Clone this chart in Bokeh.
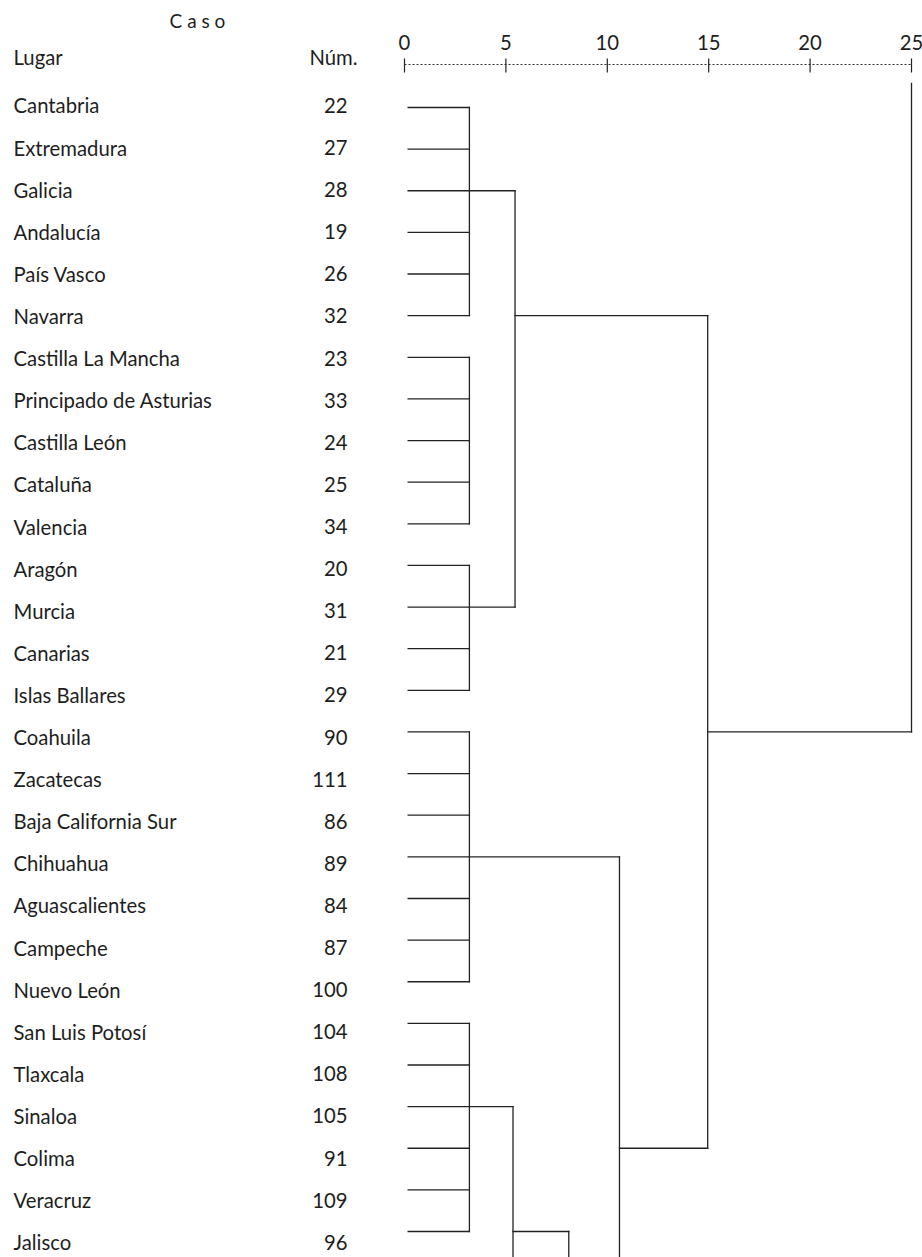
from bokeh.plotting import figure
from bokeh.models import Range1d
from bokeh.core.properties import value
from bokeh.embed import file_html
from bokeh.resources import INLINE

# ---------------- data ----------------
lugares = ["Cantabria", "Extremadura", "Galicia", "Andalucía", "País Vasco", "Navarra",
           "Castilla La Mancha", "Principado de Asturias", "Castilla León", "Cataluña",
           "Valencia", "Aragón", "Murcia", "Canarias", "Islas Ballares", "Coahuila",
           "Zacatecas", "Baja California Sur", "Chihuahua", "Aguascalientes", "Campeche",
           "Nuevo León", "San Luis Potosí", "Tlaxcala", "Sinaloa", "Colima", "Veracruz",
           "Jalisco"]
numeros = [22, 27, 28, 19, 26, 32, 23, 33, 24, 25, 34, 20, 31, 21, 29, 90, 111, 86, 89,
           84, 87, 100, 104, 108, 105, 91, 109, 96]

# rescaled distance ticks (top axis)
ticks = [0, 5, 10, 15, 20, 25]
tick_labels = ["0", "5", "10", "15", "20", "25"]

# dendrogram nodes: level (rescaled distance), first row, last row of the vertical,
# row of the outgoing link and level of the parent node (rows > 27 are cut off below)
nodo_nivel = [3.2, 3.2, 3.2, 5.45, 3.2, 3.2, 14.95, 10.6, 5.35, 8.1, 25.0]
nodo_ini = [0, 6, 11, 2, 15, 22, 5, 18, 24, 27, -0.58]
nodo_fin = [5, 10, 14, 12, 21, 27, 25, 29, 29, 29, 15]
nodo_salida = [2, None, 12, 5, 18, 24, 15, 25, 27, None, None]
nodo_padre = [5.45, None, 5.45, 14.95, 10.6, 5.35, 25.0, 14.95, 8.1, None, None]
nodos_hoja = [0, 1, 2, 4, 5]  # nodes whose members are single cases

# ---------------- style ----------------
FONT = value("Lato")
TXT = "#1e1e1e"
LINE = "#222222"
LEAF_X0 = 0.18
FS = "20.3px"

p = figure(width=922, height=1257,
           x_range=Range1d(-19.921, 25.542), y_range=Range1d(27.624, -2.570),
           output_backend="svg", toolbar_location=None, min_border=0,
           x_axis_location=None, y_axis_location=None)
p.grid.visible = False
p.outline_line_color = None
p.background_fill_color = "white"
p.border_fill_color = "white"

# ----- segments of the dendrogram -----
x0, y0, x1, y1 = [], [], [], []
for k in nodos_hoja:
    for r in range(nodo_ini[k], nodo_fin[k] + 1):
        x0.append(LEAF_X0); x1.append(nodo_nivel[k]); y0.append(r); y1.append(r)
for k in range(len(nodo_nivel)):
    x0.append(nodo_nivel[k]); x1.append(nodo_nivel[k])
    y0.append(nodo_ini[k]); y1.append(nodo_fin[k])
    if nodo_salida[k] is not None:
        x0.append(nodo_nivel[k]); x1.append(nodo_padre[k])
        y0.append(nodo_salida[k]); y1.append(nodo_salida[k])
p.segment(x0=x0, y0=y0, x1=x1, y1=y1, line_color=LINE, line_width=1.3,
          line_cap="square")

# ----- top scale (rescaled distance) -----
AX_Y = -1.033
p.segment(x0=[ticks[0]], y0=[AX_Y], x1=[ticks[-1]], y1=[AX_Y],
          line_color="#333333", line_width=1.2, line_dash="2 2")
p.segment(x0=ticks, y0=[AX_Y - 0.145] * len(ticks), x1=ticks, y1=[AX_Y + 0.19] * len(ticks),
          line_color="#222222", line_width=1.2)
p.text(x=ticks, y=[-1.561] * len(ticks), text=tick_labels, text_font=FONT,
       text_font_size=FS, text_align="center", text_baseline="middle",
       text_color=TXT)

# ----- labels -----
rows = list(range(len(lugares)))
label_y = [-0.048 + 1.0113 * r for r in rows]
p.text(x=[-19.28] * len(rows), y=label_y, text=lugares, text_font=FONT,
       text_font_size=FS, text_align="left", text_baseline="middle",
       text_color=TXT)
p.text(x=[-2.81] * len(rows), y=label_y, text=[str(n) for n in numeros], text_font=FONT,
       text_font_size=FS, text_align="right", text_baseline="middle",
       text_color=TXT)

# ----- headers -----
p.text(x=[-10.21], y=[-2.09], text=["C a s o"], text_font=FONT, text_font_size="19px",
       text_align="center", text_baseline="middle", text_color=TXT)
p.text(x=[-19.28], y=[-1.201], text=["Lugar"], text_font=FONT, text_font_size=FS,
       text_align="left", text_baseline="middle", text_color=TXT)
p.text(x=[-2.32], y=[-1.201], text=["Núm."], text_font=FONT, text_font_size=FS,
       text_align="right", text_baseline="middle", text_color=TXT)

open("out.html", "w").write(file_html(p, INLINE))
